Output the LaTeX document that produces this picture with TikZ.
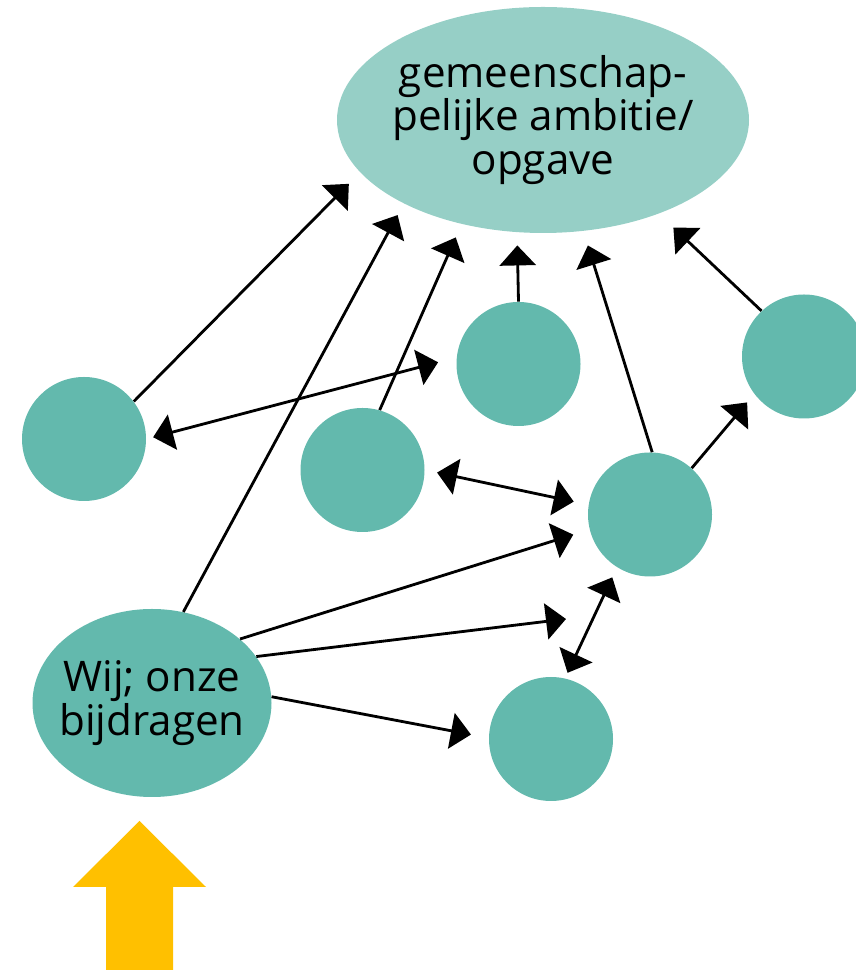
\documentclass[tikz,border=0pt]{standalone}
\usepackage{fontspec}
\setmainfont{Open Sans}
\usetikzlibrary{shapes.geometric,arrows.meta}

\definecolor{ambitie}{HTML}{96CFC6}
\definecolor{kring}{HTML}{63B9AD}
\definecolor{pijlgeel}{HTML}{FFC000}

\begin{document}
\begin{tikzpicture}[
    bol/.style={circle,fill=kring,minimum size=2.48cm,inner sep=0pt},
    ovaal/.style={ellipse,inner sep=-0.4cm,align=center,font=\fontsize{24}{25}\selectfont},
    pijl/.style={-{Triangle[length=0.4cm,width=0.72cm]},line width=1.6pt},
    tweepijl/.style={{Triangle[length=0.4cm,width=0.72cm]}-{Triangle[length=0.4cm,width=0.72cm]},line width=1.6pt}
]
    \useasboundingbox (0,0) rectangle (17.12,19.4);

    % shared ambition on top
    \node[ovaal,fill=ambitie,minimum width=8.24cm,minimum height=4.52cm] (ambitie) at (10.86,17.0)
        {gemeenschap-\\pelijke ambitie/\\opgave};

    % we and our contributions
    \node[ovaal,fill=kring,minimum width=4.78cm,minimum height=3.76cm] (wij) at (3.04,5.34)
        {Wij; onze\\bijdragen};

    % the other parties
    \node[bol] (p1) at (1.68,10.62) {};
    \node[bol] (p2) at (7.25,10.00) {};
    \node[bol] (p3) at (10.37,12.12) {};
    \node[bol] (p4) at (13.00,9.11) {};
    \node[bol] (p5) at (16.08,12.27) {};
    \node[bol] (p6) at (11.02,4.62) {};
    \coordinate (tussen) at (11.32,7.02);

    % arrows towards the ambition
    \draw[pijl,shorten >=0.32cm] (p1.37) -- (ambitie.196);
    \draw[pijl,shorten >=0.26cm] (wij.71) -- (ambitie.211);
    \draw[pijl,shorten >=0.29cm] (p2.74) -- (ambitie.232);
    \draw[pijl,shorten >=0.26cm] (p3.90) -- (ambitie.257);
    \draw[pijl,shorten >=0.30cm] (p4.88) -- (ambitie.290);
    \draw[pijl,shorten >=0.40cm] (p5.133) -- (ambitie.321);

    % arrows between the parties
    \draw[tweepijl,shorten <=0.14cm,shorten >=0.38cm] (p1.0) -- (p3.174);
    \draw[tweepijl,shorten <=0.25cm,shorten >=0.30cm] (p2.0) -- (p4.171);
    \draw[pijl,shorten >=0.22cm] (p4.48) -- (p5.217);
    \draw[tweepijl,shorten <=0.12cm,shorten >=0.22cm] (p6.77) -- (p4.238);

    % our contributions
    \draw[pijl,shorten >=0.34cm] (wij.36) -- (p4.194);
    \draw[pijl] (wij.24) -- (tussen);
    \draw[pijl,shorten >=0.36cm] (wij.3) -- (p6.179);

    % big yellow arrow
    \fill[pijlgeel] (2.12,0) -- (2.12,1.66) -- (1.46,1.66) -- (2.79,2.98)
        -- (4.12,1.66) -- (3.46,1.66) -- (3.46,0) -- cycle;
\end{tikzpicture}
\end{document}
